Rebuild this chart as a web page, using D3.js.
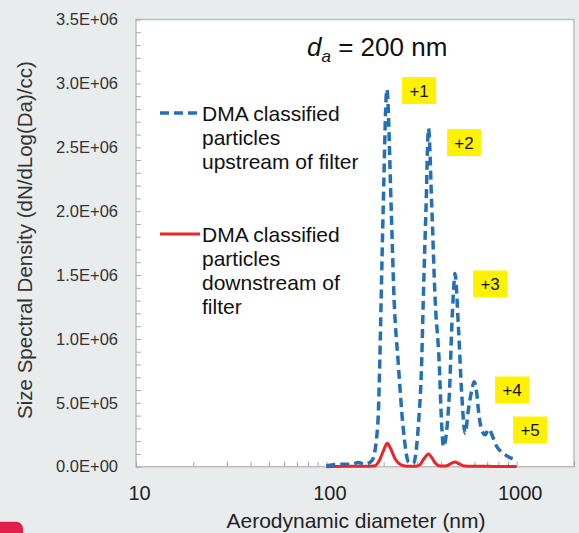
<!DOCTYPE html>
<html>
<head>
<meta charset="utf-8">
<script src="https://cdn.jsdelivr.net/npm/d3@7"></script>
<style>
  body { margin: 0; background: #e9ecec; }
  svg { display: block; font-family: "Liberation Sans", Arial, sans-serif; }
</style>
</head>
<body>
<svg id="chart"></svg>
<script>
const width = 579;
const height = 533;

// Upstream of filter (blue dashed)
const blueDiam = [100, 118, 136, 147, 160, 174, 186, 191, 194, 199, 208, 219, 227, 238, 253, 270, 286,
    304, 317, 323, 334, 344, 358, 373, 391, 404, 412, 443, 456, 465, 474, 494, 514, 536,
    557, 581, 597, 617, 629, 655, 683, 710, 786, 904, 1000];
const blueVal = [8000, 20000, 20000, 33000, 20000, 50000, 313000, 835000, 1305000, 2034000, 2953000, 2034000, 1305000, 835000, 313000, 39000, 25000,
    313000, 835000, 1305000, 2034000, 2648000, 2034000, 1305000, 835000, 313000, 157000, 574000, 1096000, 1357000, 1513000, 1096000, 574000, 261000,
    444000, 600000, 665000, 574000, 444000, 287000, 250000, 293000, 157000, 78000, 52000];

// Downstream of filter (red solid)
const redDiam = [100, 130, 160, 180, 190, 200, 209, 218, 230, 254, 275, 293, 310, 325, 344, 360, 375, 396,
    430, 455, 474, 495, 530, 600, 700, 800, 1000];
const redVal = [0, 3000, 3000, 8000, 50000, 130000, 183000, 140000, 60000, 8000, 3000, 3000, 15000, 60000, 100000, 65000, 25000, 5000,
    8000, 28000, 37000, 25000, 5000, 3000, 3000, 2000, 2000];

// charge state labels (anchored at box centre, data coords)
const peakLabels = ["+1", "+2", "+3", "+4", "+5"];
const peakLabelDiam = [307, 529, 725, 946, 1176];
const peakLabelVal = [2944000, 2537000, 1430000, 600000, 287000];

const xMajor = [10, 100, 1000];
const yMajor = d3.range(0, 3500001, 500000);

var svg = d3.select("#chart")
    .attr("width", width)
    .attr("height", height)
    .attr("viewBox", `0 0 ${width} ${height}`);

var x = d3.scaleLog().domain([10, 2000]).range([136, 574]);
var y = d3.scaleLinear().domain([0, 3500000]).range([466.7, 19.5]);

// plot area
svg.append("rect")
    .attr("x", x.range()[0])
    .attr("y", y.range()[1])
    .attr("width", x.range()[1] - x.range()[0])
    .attr("height", y.range()[0] - y.range()[1])
    .attr("fill", "#fff")
    .attr("stroke", "#bdbdbd")
    .attr("stroke-width", 1.5);

// minor ticks (point inward)
var xMinor = [];
[10, 100, 1000].forEach(dec => {
    for (let k = 1; k <= 9; k++) xMinor.push(dec * k);
});
xMinor.push(2000);

svg.append("g")
    .attr("transform", `translate(0,${y.range()[0]})`)
    .call(d3.axisBottom(x).tickValues(xMinor).tickSize(-5).tickFormat(""))
    .call(g => g.select(".domain").remove())
    .call(g => g.selectAll("line").attr("stroke", "#a8a8a8"));

svg.append("g")
    .attr("transform", `translate(${x.range()[0]},0)`)
    .call(d3.axisLeft(y).tickValues(d3.range(0, 3500001, 100000)).tickSize(-5).tickFormat(""))
    .call(g => g.select(".domain").remove())
    .call(g => g.selectAll("line").attr("stroke", "#a8a8a8"));

// tick labels
function sci(v) {
    if (v === 0) return "0.0E+00";
    var e = Math.floor(Math.log10(v));
    var m = v / Math.pow(10, e);
    return m.toFixed(1) + "E+" + String(e).padStart(2, "0");
}

svg.append("g")
    .attr("transform", `translate(0,${y.range()[0]})`)
    .call(d3.axisBottom(x).tickValues(xMajor).tickSize(0).tickPadding(19).tickFormat(d3.format("d")))
    .call(g => g.select(".domain").remove())
    .call(g => g.selectAll("text")
        .attr("font-family", "Liberation Sans, Arial, sans-serif")
        .attr("font-size", 20)
        .attr("dx", 3)
        .attr("fill", "#222"));

svg.append("g")
    .attr("transform", `translate(${x.range()[0]},0)`)
    .call(d3.axisLeft(y).tickValues(yMajor).tickSize(0).tickPadding(18).tickFormat(sci))
    .call(g => g.select(".domain").remove())
    .call(g => g.selectAll("text")
        .attr("font-family", "Liberation Sans, Arial, sans-serif")
        .attr("font-size", 16.5)
        .attr("fill", "#333"));

// axis titles
svg.append("text")
    .attr("x", 356)
    .attr("y", 528)
    .attr("text-anchor", "middle")
    .attr("font-size", 21)
    .attr("fill", "#222")
    .text("Aerodynamic diameter (nm)");

svg.append("text")
    .attr("transform", "translate(32,240) rotate(-90)")
    .attr("text-anchor", "middle")
    .attr("font-size", 20.5)
    .attr("fill", "#333")
    .text("Size Spectral Density (dN/dLog(Da)/cc)");

// curves
var line = d3.line()
    .x(d => x(d[0]))
    .y(d => y(d[1]))
    .curve(d3.curveMonotoneX);

svg.append("path")
    .datum(redDiam.map((d, i) => [d, redVal[i]]))
    .attr("fill", "none")
    .attr("stroke", "#e8262b")
    .attr("stroke-width", 3)
    .attr("d", line);

svg.append("path")
    .datum(blueDiam.map((d, i) => [d, blueVal[i]]))
    .attr("fill", "none")
    .attr("stroke", "#2370b8")
    .attr("stroke-width", 3.5)
    .attr("stroke-dasharray", "9,5")
    .attr("d", line);

// charge labels
var lab = svg.append("g").selectAll("g")
    .data(peakLabels)
    .enter().append("g")
    .attr("transform", (d, i) => `translate(${x(peakLabelDiam[i])},${y(peakLabelVal[i])})`);

lab.append("rect")
    .attr("x", -17).attr("y", -13.5)
    .attr("width", 34).attr("height", 27)
    .attr("fill", "#fff200");

lab.append("text")
    .attr("text-anchor", "middle")
    .attr("dy", "0.36em")
    .attr("font-size", 17)
    .attr("fill", "#111")
    .text(d => d);

// legend
var legend = svg.append("g");
legend.append("line")
    .attr("x1", 160).attr("x2", 200)
    .attr("y1", 113).attr("y2", 113)
    .attr("stroke", "#2370b8").attr("stroke-width", 3.5)
    .attr("stroke-dasharray", "9,5");
legend.append("line")
    .attr("x1", 160).attr("x2", 200)
    .attr("y1", 234).attr("y2", 234)
    .attr("stroke", "#e8262b").attr("stroke-width", 3);

function addLines(lines, x0, y0) {
    var t = legend.append("text")
        .attr("x", x0).attr("y", y0)
        .attr("font-size", 21)
        .attr("fill", "#111");
    lines.forEach((s, i) => {
        t.append("tspan").attr("x", x0).attr("y", y0 + i * 24.2).text(s);
    });
}
addLines(["DMA classified", "particles", "upstream of filter"], 202, 120.5);
addLines(["DMA classified", "particles", "downstream of", "filter"], 202, 241.5);

// title
var title = svg.append("text")
    .attr("x", 307)
    .attr("y", 56)
    .attr("font-size", 26)
    .attr("fill", "#111");
title.append("tspan").attr("font-style", "italic").text("d");
title.append("tspan").attr("font-style", "italic").attr("font-size", 17).attr("dy", 6).text("a");
title.append("tspan").attr("dy", -6).text(" = 200 nm");

// cut-off badge at the bottom-left corner
svg.append("rect")
    .attr("x", -12).attr("y", 521.7)
    .attr("width", 35).attr("height", 30)
    .attr("rx", 7)
    .attr("fill", "#e21f4b");
</script>
</body>
</html>
